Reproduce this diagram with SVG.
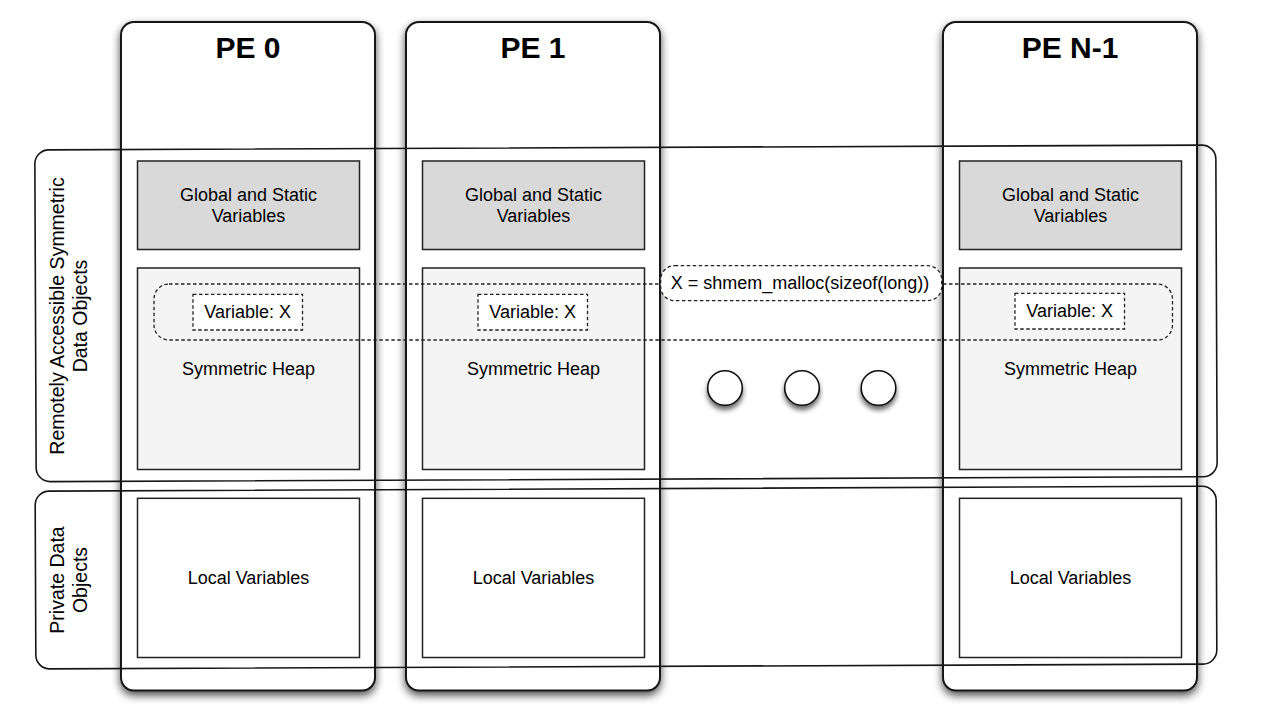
<svg xmlns="http://www.w3.org/2000/svg" width="1264" height="715" viewBox="0 0 1264 715">
<defs>
<filter id="colShadow" x="-10%" y="-5%" width="120%" height="110%">
<feDropShadow dx="0" dy="4" stdDeviation="4" flood-color="#000" flood-opacity="0.7"/>
</filter>
<filter id="dotShadow" x="-50%" y="-50%" width="200%" height="220%">
<feDropShadow dx="0" dy="4" stdDeviation="2.5" flood-color="#000" flood-opacity="0.6"/>
</filter>
<style>
.col{fill:#fff;stroke:#161616;stroke-width:2}
.title{font-family:"Liberation Sans",Arial,sans-serif;font-weight:bold;font-size:30px;fill:#000;text-anchor:middle}
.lbl{font-family:"Liberation Sans",Arial,sans-serif;font-size:18px;fill:#000;text-anchor:middle}
.vlbl{font-family:"Liberation Sans",Arial,sans-serif;font-size:19.5px;fill:#000;text-anchor:middle}
.glob{fill:#d9d9d9;stroke:#222;stroke-width:1.5}
.heap{fill:#f4f4f4;stroke:#222;stroke-width:1.5}
.local{fill:#fff;stroke:#222;stroke-width:1.5}
.band{fill:none;stroke:#161616;stroke-width:1.6}
.dash{fill:none;stroke:#222;stroke-width:1.3;stroke-dasharray:3.5 2.5}
.dashw{fill:#fff;stroke:#222;stroke-width:1.3;stroke-dasharray:3.5 2.5}
.dot{fill:#fff;stroke:#111;stroke-width:1.6}
</style>
</defs>
<rect x="0" y="0" width="1264" height="715" fill="#fff"/>

<g id="pe0">
<rect class="col" x="121" y="22" width="254" height="668.5" rx="13" filter="url(#colShadow)"/>
<text class="title" x="248" y="58">PE 0</text>
<rect class="glob" x="137.5" y="161" width="222" height="88.5"/>
<text class="lbl" x="248.5" y="201">Global and Static</text>
<text class="lbl" x="248.5" y="221.7">Variables</text>
<rect class="heap" x="137.5" y="268" width="222" height="201.5"/>
<text class="lbl" x="248.5" y="375">Symmetric Heap</text>
<rect class="local" x="137.5" y="498.3" width="222" height="159.2"/>
<text class="lbl" x="248.5" y="584">Local Variables</text>
</g>

<g id="pe1">
<rect class="col" x="406" y="22" width="254" height="668.5" rx="13" filter="url(#colShadow)"/>
<text class="title" x="533" y="58">PE 1</text>
<rect class="glob" x="422.5" y="161" width="222" height="88.5"/>
<text class="lbl" x="533.5" y="201">Global and Static</text>
<text class="lbl" x="533.5" y="221.7">Variables</text>
<rect class="heap" x="422.5" y="268" width="222" height="201.5"/>
<text class="lbl" x="533.5" y="375">Symmetric Heap</text>
<rect class="local" x="422.5" y="498.3" width="222" height="159.2"/>
<text class="lbl" x="533.5" y="584">Local Variables</text>
</g>

<g id="pen1">
<rect class="col" x="943" y="22" width="254" height="668.5" rx="13" filter="url(#colShadow)"/>
<text class="title" x="1070" y="58">PE N-1</text>
<rect class="glob" x="959.5" y="161" width="222" height="88.5"/>
<text class="lbl" x="1070.5" y="201">Global and Static</text>
<text class="lbl" x="1070.5" y="221.7">Variables</text>
<rect class="heap" x="959.5" y="268" width="222" height="201.5"/>
<text class="lbl" x="1070.5" y="375">Symmetric Heap</text>
<rect class="local" x="959.5" y="498.3" width="222" height="159.2"/>
<text class="lbl" x="1070.5" y="584">Local Variables</text>
</g>

<g id="band-symmetric">
<rect class="band" x="35.5" y="147.5" width="1181" height="331.7" rx="14" transform="rotate(-0.24 626 313)"/>
<g transform="rotate(-90 63.5 316)">
<text class="vlbl" x="63.5" y="316">Remotely Accessible Symmetric</text>
</g>
<g transform="rotate(-90 86.5 316)">
<text class="vlbl" x="86.5" y="316">Data Objects</text>
</g>
</g>

<g id="band-private">
<rect class="band" x="35.5" y="488.7" width="1181" height="177.8" rx="14" transform="rotate(-0.24 626 577)"/>
<g transform="rotate(-90 63.5 580)">
<text class="vlbl" x="63.5" y="580">Private Data</text>
</g>
<g transform="rotate(-90 86.5 580)">
<text class="vlbl" x="86.5" y="580">Objects</text>
</g>
</g>

<g id="symmetric-x">
<rect class="dash" x="154" y="284" width="1018.5" height="56" rx="15"/>
</g>

<g id="var-x-pe0">
<rect class="dashw" x="193" y="294.3" width="109.5" height="35.7"/>
<text class="lbl" x="247.7" y="318.3">Variable: X</text>
</g>
<g id="var-x-pe1">
<rect class="dashw" x="478" y="294.3" width="109.5" height="35.7"/>
<text class="lbl" x="532.7" y="318.3">Variable: X</text>
</g>
<g id="var-x-pen1">
<rect class="dashw" x="1015" y="293.3" width="109.5" height="35.7"/>
<text class="lbl" x="1069.7" y="317.3">Variable: X</text>
</g>

<g id="malloc">
<rect class="dashw" x="660.7" y="265.7" width="281" height="35" rx="14"/>
<text class="lbl" x="800" y="289.3">X = shmem_malloc(sizeof(long))</text>
</g>

<g id="ellipsis">
<circle class="dot" cx="725" cy="388" r="17.3" filter="url(#dotShadow)"/>
<circle class="dot" cx="802" cy="388" r="17.3" filter="url(#dotShadow)"/>
<circle class="dot" cx="878.5" cy="388" r="17.3" filter="url(#dotShadow)"/>
</g>

<g id="connectors"/>
</svg>
